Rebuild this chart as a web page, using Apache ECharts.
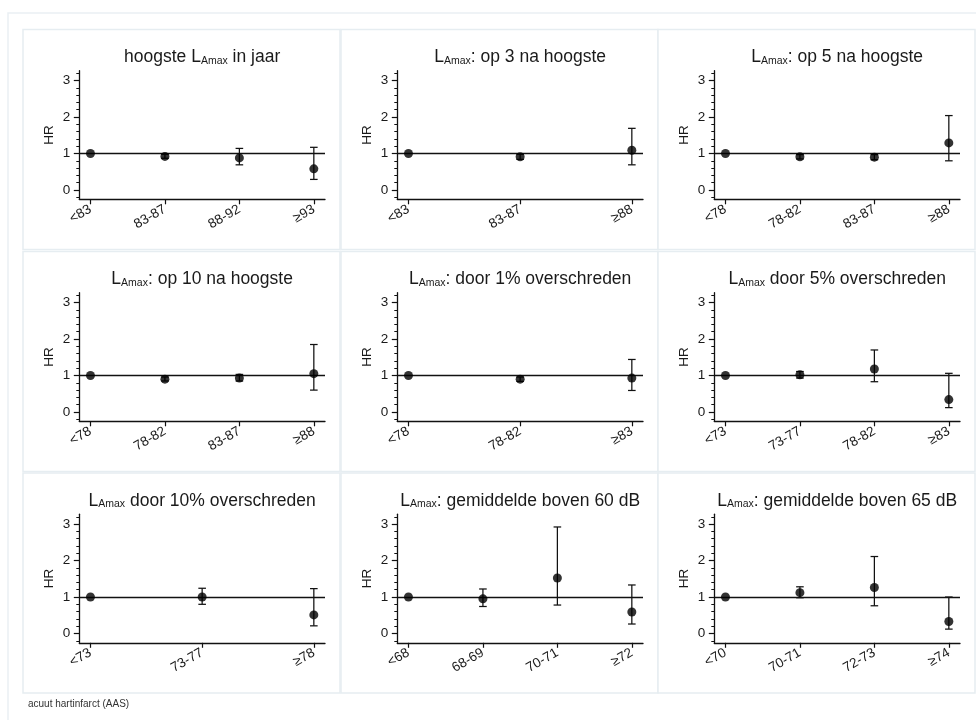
<!DOCTYPE html>
<html>
<head>
<meta charset="utf-8">
<script src="https://cdn.jsdelivr.net/npm/echarts@6/dist/echarts.min.js"></script>
<style>html,body{margin:0;padding:0;background:#fff}#c{width:976px;height:720px}</style>
</head>
<body>
<div id="c"></div>
<script>
// ---- data ----
const titlePre  = ['hoogste L', 'L', 'L', 'L', 'L', 'L', 'L', 'L', 'L'];
const titlePost = [' in jaar', ': op 3 na hoogste', ': op 5 na hoogste', ': op 10 na hoogste',
  ': door 1% overschreden', ' door 5% overschreden', ' door 10% overschreden',
  ': gemiddelde boven 60 dB', ': gemiddelde boven 65 dB'];
const yTickLabels = [0, 1, 2, 3];

const p1Cats = ['<83', '83-87', '88-92', '≥93'];
const p1HR = [1, 0.92, 0.88, 0.58];
const p1Lo = [null, 0.87, 0.69, 0.29];
const p1Hi = [null, 0.98, 1.14, 1.17];

const p2Cats = ['<83', '83-87', '≥88'];
const p2HR = [1, 0.91, 1.09];
const p2Lo = [null, 0.84, 0.69];
const p2Hi = [null, 0.98, 1.69];

const p3Cats = ['<78', '78-82', '83-87', '≥88'];
const p3HR = [1, 0.91, 0.90, 1.29];
const p3Lo = [null, 0.85, 0.83, 0.80];
const p3Hi = [null, 0.97, 0.97, 2.04];

const p4Cats = ['<78', '78-82', '83-87', '≥88'];
const p4HR = [1, 0.90, 0.93, 1.05];
const p4Lo = [null, 0.85, 0.85, 0.60];
const p4Hi = [null, 0.96, 1.03, 1.85];

const p5Cats = ['<78', '78-82', '≥83'];
const p5HR = [1, 0.90, 0.93];
const p5Lo = [null, 0.84, 0.59];
const p5Hi = [null, 0.96, 1.44];

const p6Cats = ['<73', '73-77', '78-82', '≥83'];
const p6HR = [1, 1.02, 1.18, 0.34];
const p6Lo = [null, 0.93, 0.83, 0.12];
const p6Hi = [null, 1.11, 1.70, 1.06];

const p7Cats = ['<73', '73-77', '≥78'];
const p7HR = [1, 1.00, 0.51];
const p7Lo = [null, 0.80, 0.21];
const p7Hi = [null, 1.24, 1.23];

const p8Cats = ['<68', '68-69', '70-71', '≥72'];
const p8HR = [1, 0.95, 1.52, 0.59];
const p8Lo = [null, 0.74, 0.78, 0.26];
const p8Hi = [null, 1.22, 2.92, 1.33];

const p9Cats = ['<70', '70-71', '72-73', '≥74'];
const p9HR = [1, 1.12, 1.26, 0.33];
const p9Lo = [null, 0.98, 0.76, 0.12];
const p9Hi = [null, 1.28, 2.11, 1.00];

const footnote = 'acuut hartinfarct (AAS)';

const panels = [
  [p1Cats, p1HR, p1Lo, p1Hi], [p2Cats, p2HR, p2Lo, p2Hi], [p3Cats, p3HR, p3Lo, p3Hi],
  [p4Cats, p4HR, p4Lo, p4Hi], [p5Cats, p5HR, p5Lo, p5Hi], [p6Cats, p6HR, p6Lo, p6Hi],
  [p7Cats, p7HR, p7Lo, p7Hi], [p8Cats, p8HR, p8Lo, p8Hi], [p9Cats, p9HR, p9Lo, p9Hi]
];

// ---- layout ----
const FONT = '"Liberation Sans", Arial, sans-serif';
const TXT = '#1a1a1a';
const colLeft = [23, 341, 658];
const rowTop = [29.5, 251.5, 473];
const cellW = 317, cellH = 220;
const gOffX = 56.3, gW = 245.7, gOffY = 41.2, gH = 128.6;
const X_MIN = 0.85, X_MAX = 4.15, Y_MIN = -0.255, Y_MAX = 3.27;

const minorVals = [];
for (let k = -1; k <= 16; k++) { if (k % 5 !== 0) minorVals.push(+(k * 0.2).toFixed(2)); }

const grid = [], xAxis = [], yAxis = [], series = [], title = [], graphic = [];

graphic.push({type: 'rect', shape: {x: 8, y: 13, width: 990, height: 740},
  style: {fill: 'none', stroke: '#eaf0f3', lineWidth: 1.5}, silent: true, z: -1});

panels.forEach((p, i) => {
  const [cats, hr, lo, hi] = p;
  const r = Math.floor(i / 3), c = i % 3;
  const L = colLeft[c], T = rowTop[r];
  const n = cats.length;
  const pos = cats.map((_, j) => 1 + j * 3 / (n - 1));

  graphic.push({type: 'rect', shape: {x: L, y: T, width: cellW, height: cellH},
    style: {fill: '#fff', stroke: '#e6edf1', lineWidth: 1.5}, silent: true, z: -1});

  grid.push({left: L + gOffX, top: T + gOffY, width: gW, height: gH, outerBoundsMode: 'none'});
  title.push({
    text: '{m|' + titlePre[i] + '}{s|Amax}{m|' + titlePost[i] + '}',
    left: L + gOffX + gW / 2, top: T + 27, textAlign: 'center', textVerticalAlign: 'middle', padding: 0,
    textStyle: {fontWeight: 'normal', rich: {
      m: {fontFamily: FONT, fontSize: 17.5, fontWeight: 'normal', color: TXT, lineHeight: 20, verticalAlign: 'bottom'},
      s: {fontFamily: FONT, fontSize: 10.5, fontWeight: 'normal', color: TXT, lineHeight: 12, verticalAlign: 'bottom'}
    }}
  });

  xAxis.push({
    type: 'value', gridIndex: i, min: X_MIN, max: X_MAX,
    splitLine: {show: false},
    axisLine: {show: true, onZero: false, lineStyle: {color: '#111', width: 1.3}},
    axisTick: {show: true, customValues: pos, length: 5, lineStyle: {color: '#111', width: 1.2}},
    axisLabel: {show: true, customValues: pos, rotate: 30, margin: 9, fontFamily: FONT, fontSize: 13.5, color: TXT,
      formatter: v => { const j = pos.findIndex(q => Math.abs(q - v) < 1e-6); return j >= 0 ? cats[j] : ''; }}
  });
  yAxis.push({
    type: 'value', gridIndex: i, min: Y_MIN, max: Y_MAX,
    name: 'HR', nameLocation: 'middle', nameGap: 23,
    nameTextStyle: {fontFamily: FONT, fontSize: 13.5, color: TXT},
    splitLine: {show: false},
    axisLine: {show: true, onZero: false, lineStyle: {color: '#111', width: 1.3}},
    axisTick: {show: true, customValues: yTickLabels, length: 5.5, lineStyle: {color: '#111', width: 1.2}},
    axisLabel: {show: true, customValues: yTickLabels, margin: 9, fontFamily: FONT, fontSize: 13.5, color: TXT}
  });
  // minor ticks axis (same scale)
  yAxis.push({
    type: 'value', gridIndex: i, min: Y_MIN, max: Y_MAX, position: 'left',
    splitLine: {show: false}, axisLine: {show: false},
    axisTick: {show: true, customValues: minorVals, length: 3, lineStyle: {color: '#111', width: 1}},
    axisLabel: {show: false}
  });

  const pts = hr.map((v, j) => [pos[j], v]);
  const bars = [];
  hr.forEach((v, j) => { if (lo[j] != null && hi[j] != null) bars.push([pos[j], lo[j], hi[j]]); });

  series.push({
    type: 'custom', xAxisIndex: i, yAxisIndex: 2 * i, data: bars, silent: true, z: 3,
    encode: {x: 0, y: [1, 2]},
    renderItem: (params, api) => {
      const x = api.value(0);
      const a = api.coord([x, api.value(1)]);
      const b = api.coord([x, api.value(2)]);
      const w = 3.8;
      const st = {stroke: '#111', lineWidth: 1.25};
      return {type: 'group', children: [
        {type: 'line', shape: {x1: a[0], y1: a[1], x2: b[0], y2: b[1]}, style: st},
        {type: 'line', shape: {x1: a[0] - w, y1: a[1], x2: a[0] + w, y2: a[1]}, style: st},
        {type: 'line', shape: {x1: b[0] - w, y1: b[1], x2: b[0] + w, y2: b[1]}, style: st}
      ]};
    }
  });
  series.push({
    type: 'scatter', xAxisIndex: i, yAxisIndex: 2 * i, data: pts, symbol: 'circle', symbolSize: 9,
    itemStyle: {color: '#000'}, silent: true, z: 4,
    markLine: {silent: true, symbol: ['none', 'none'], label: {show: false},
      lineStyle: {color: '#111', width: 1.3, type: 'solid'}, data: [{yAxis: 1}], z: 2}
  });
});

title.push({text: footnote, left: 28, top: 704, textVerticalAlign: 'middle', padding: 0,
  textStyle: {fontFamily: FONT, fontSize: 10, fontWeight: 'normal', color: '#333'}});

const chart = echarts.init(document.getElementById('c'), null, {renderer: 'canvas'});
chart.setOption({
  backgroundColor: '#fff', animation: false,
  title, grid, xAxis, yAxis, series, graphic
});
</script>
</body>
</html>
